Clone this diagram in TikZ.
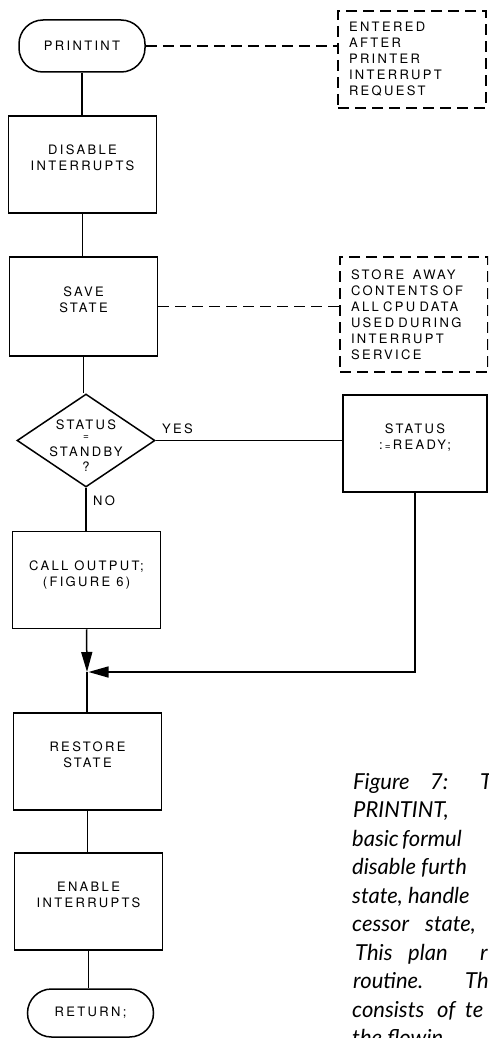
\documentclass[tikz,border=0pt]{standalone}
\usepackage{fontspec}
\newfontfamily\chartfont[LetterSpace=18]{TeX Gyre Heros}
\newfontfamily\capfont{Lato}
\usetikzlibrary{shapes.geometric}
\usetikzlibrary{arrows.meta}

\begin{document}
\begin{tikzpicture}[x=1pt, y=-1pt,
    every node/.style={font=\chartfont\fontsize{13}{16}\selectfont},
    box/.style={draw, line width=1.5pt, minimum width=148pt, minimum height=97pt,
      align=center, inner sep=0pt, text depth=13pt},
    term/.style={draw, line width=1.5pt, rounded corners=24pt, minimum width=126pt,
      minimum height=#1, inner sep=0pt},
    decision/.style={draw, diamond, line width=1.5pt, minimum width=138pt,
      minimum height=93pt, inner sep=0pt},
    note/.style={draw, line width=1.4pt, dash pattern=on 11pt off 6pt, align=left,
      text width=126pt, inner xsep=11pt, inner ysep=0pt, minimum height=#1},
    link/.style={line width=1.5pt},
    notelink/.style={line width=1.4pt, dash pattern=on 11pt off 6pt},
    flow/.style={line width=1.5pt, -{Triangle[length=20pt, width=11pt]}},
    capline/.style={font=\capfont\itshape\fontsize{22}{26}\selectfont, inner sep=0pt,
      anchor=base west}
    ]

    \useasboundingbox (0,0) rectangle (488,1038);
    \clip (0,0) rectangle (488,1038);

    \node[term=52pt] (print) at (82,46) {PRINTINT};
    \node[note=97pt] (note1) at (412,59.5) {ENTERED\\AFTER\\PRINTER\\INTERRUPT\\REQUEST};

    \node[box] (disable) at (82.5,164.5) {DISABLE\\INTERRUPTS};

    \node[box, minimum height=99pt] (save) at (83.5,306.5) {SAVE\\STATE};
    \node[note=115pt] (note2) at (414,314.5) {STORE\ \ AWAY\\CONTENTS OF\\ALL CPU DATA\\USED DURING\\INTERRUPT\\SERVICE};

    \node[decision] (test) at (86,440.5) {};
    \node[align=center, inner sep=0pt] (testtext) at (86,446)
      {STATUS\\[-6pt]{\fontsize{10}{10}\selectfont =}\\[1pt]STANDBY\\[-1pt]?};
    \node[anchor=base west, inner sep=0pt] (yes) at (162,433) {YES};
    \node[anchor=base west, inner sep=0pt] (no) at (93,505) {NO};

    \node[box, minimum width=144pt] (ready) at (415,443.5)
      {STATUS\\:\,{\fontsize{10}{10}\selectfont =}\,READY;};

    \node[box] (call) at (86.5,580) {CALL OUTPUT;\\(FIGURE 6)};
    \coordinate (join) at (87,672);

    \node[box] (restore) at (87.5,761.5) {RESTORE\\STATE};
    \node[box] (enable) at (88.5,901.5) {ENABLE\\INTERRUPTS};
    \node[term=48pt] (stop) at (90.5,1013) {RETURN;};

    \draw[link] (print.south) -- (print.south |- disable.north);
    \draw[link] (disable.south) -- (disable.south |- save.north);
    \draw[link] (save.south) -- (save.south |- test.north);
    \draw[link] (test.east) -- (test.east -| ready.west);
    \draw[link] (test.south) -- (test.south |- call.north);
    \draw[flow] (call.south) -- (join);
    \draw[flow, shorten >=1.5pt] (ready.south) |- (join);
    \draw[link] (join) -- (join |- restore.north);
    \draw[link] (restore.south) -- (restore.south |- enable.north);
    \draw[link] (enable.south) -- (enable.south |- stop.north);

    \draw[notelink] (print.east) -- (print.east -| note1.west);
    \draw[notelink] (save.east) -- (save.east -| note2.west);

    \node[capline] (cap1) at (353,789) {\makebox[77pt][l]{Figure}\makebox[50pt][l]{7:}T};
    \node[capline] (cap2) at (353,817.5) {PRINTINT,};
    \node[capline] (cap3) at (352,846) {\makebox[50pt][l]{basic}formul};
    \node[capline] (cap4) at (352,874.5) {disable furth};
    \node[capline] (cap5) at (352,903) {state, handle};
    \node[capline] (cap6) at (352,931.5) {\makebox[73pt][l]{cessor}state,};
    \node[capline] (cap7) at (355,960) {\makebox[53pt][l]{This}\makebox[72pt][l]{plan}r};
    \node[capline] (cap8) at (353,988.5) {\makebox[112pt][l]{routine.}The};
    \node[capline] (cap9) at (352,1017) {\makebox[85pt][l]{consists}\makebox[28pt][l]{of}te};
    \node[capline] (cap10) at (352,1045.5) {the flowin};

\end{tikzpicture}
\end{document}
